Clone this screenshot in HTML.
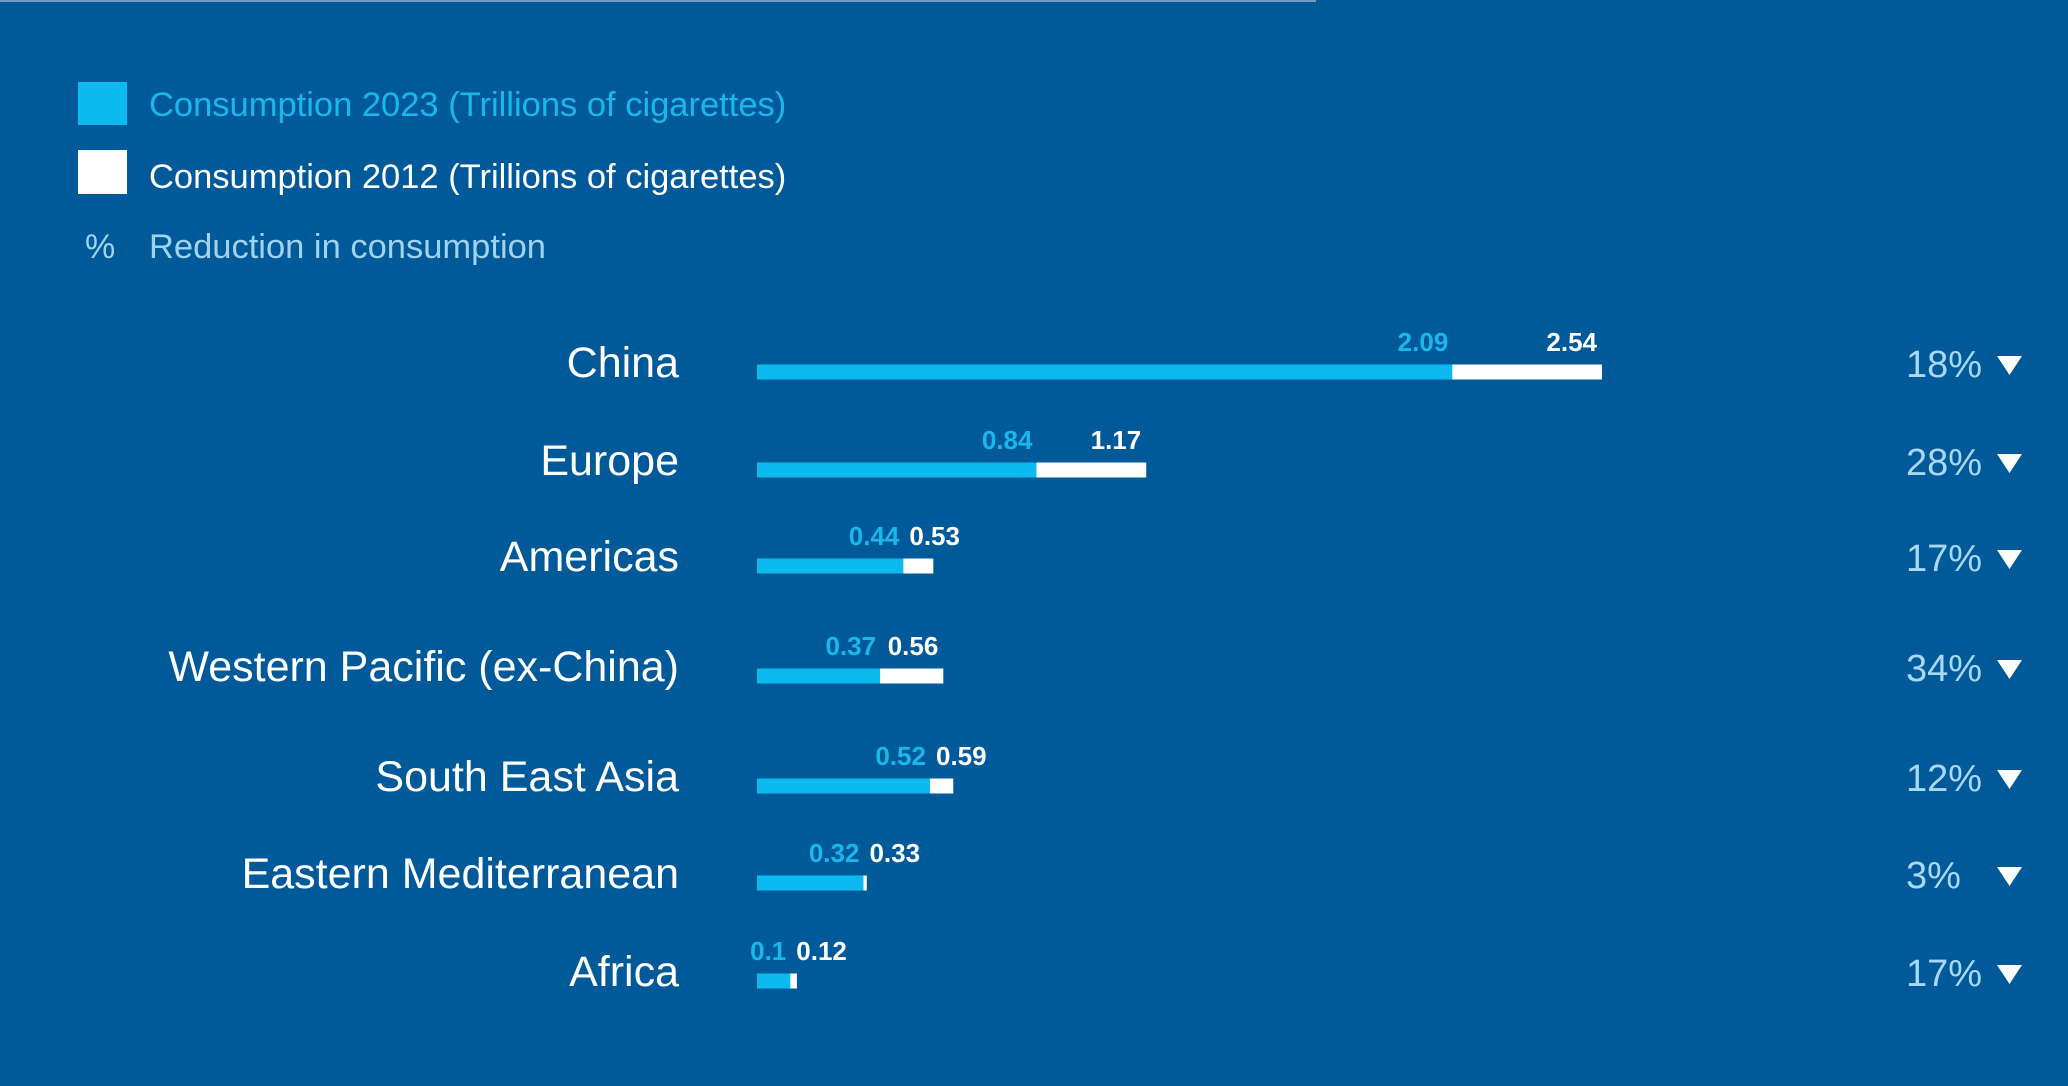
<!DOCTYPE html>
<html><head><meta charset="utf-8"><style>
html,body{margin:0;padding:0;background:#005a9a;}
svg{display:block;font-family:"Liberation Sans",sans-serif;}
</style></head><body>
<svg id="chart" width="2068" height="1086" viewBox="0 0 2068 1086" xmlns="http://www.w3.org/2000/svg">
<rect x="0" y="0" width="2068" height="1086" fill="#005a9a"/>
<line x1="0" y1="1" x2="1316" y2="1" stroke="#6f9fc8" stroke-width="2"/>
<g>
<rect x="78" y="82" width="49" height="43" fill="#0dbaf0"/>
<text x="149" y="116" font-size="34.5" fill="#1ab8ea">Consumption 2023 (Trillions of cigarettes)</text>
<rect x="78" y="150" width="49" height="44" fill="#ffffff"/>
<text x="149" y="188" font-size="34.5" fill="#ffffff">Consumption 2012 (Trillions of cigarettes)</text>
<text x="85" y="258" font-size="34" fill="#9fd3f2">%</text>
<text x="149" y="258" font-size="34.5" fill="#9fd3f2">Reduction in consumption</text>
</g>
<g id="bars"></g>
</svg>
<script>
const categories = ["China","Europe","Americas","Western Pacific (ex-China)","South East Asia","Eastern Mediterranean","Africa"];
const values2023 = [2.09,0.84,0.44,0.37,0.52,0.32,0.1];
const values2012 = [2.54,1.17,0.53,0.56,0.59,0.33,0.12];
const reductionLabels = ["18%","28%","17%","34%","12%","3%","17%"];

const NS = "http://www.w3.org/2000/svg";
const g = document.getElementById("bars");
const x0 = 757, pxPerUnit = (1602 - 757) / 2.54;
function xScale(v){ return x0 + v * pxPerUnit; }
const rowCenters = [372, 470, 566, 676, 786, 883, 981];
function yScale(i){ return rowCenters[i]; }
const barH = 15;

function mk(tag, attrs){
  const el = document.createElementNS(NS, tag);
  for (const k in attrs) el.setAttribute(k, attrs[k]);
  g.appendChild(el);
  return el;
}

categories.forEach((c, i) => {
  const cy = yScale(i);
  const lab = mk("text", {x: 679, y: cy + 5, "font-size": 43, fill: "#ffffff", "text-anchor": "end"});
  
  
  lab.textContent = c;

  const xe12 = xScale(values2012[i]), xe23 = xScale(values2023[i]);
  const b12 = mk("rect", {x: x0, y: cy - barH/2, width: xe12 - x0, height: barH, fill: "#ffffff"});
  
  
  const b23 = mk("rect", {x: x0, y: cy - barH/2, width: xe23 - x0, height: barH, fill: "#0dbaf0"});
  
  

  const ly = cy - 21;
  const t23 = mk("text", {x: xe23 - 4, y: ly, "font-size": 26, fill: "#1ab8ea", "font-weight": "600", "text-anchor": "end"});
  
  
  t23.textContent = String(values2023[i]);
  const t12 = mk("text", {x: 0, y: ly, "font-size": 26, fill: "#ffffff", "font-weight": "bold", "text-anchor": "end"});
  
  
  t12.textContent = String(values2012[i]);
  const w12 = t12.getComputedTextLength ? t12.getComputedTextLength() : 50;
  let right12 = xe12 - 5;
  const minRight = xe23 - 4 + 10 + w12;
  if (right12 < minRight) right12 = minRight;
  t12.setAttribute("x", right12);

  const pct = mk("text", {x: 1906, y: cy + 5, "font-size": 38, fill: "#a8d8f5"});
  
  
  pct.textContent = reductionLabels[i];
  const tri = mk("polygon", {points: `1997,${cy-16} 2022,${cy-16} 2009.5,${cy+3}`, fill: "#ffffff"});
  
  
});
</script>
</body></html>
